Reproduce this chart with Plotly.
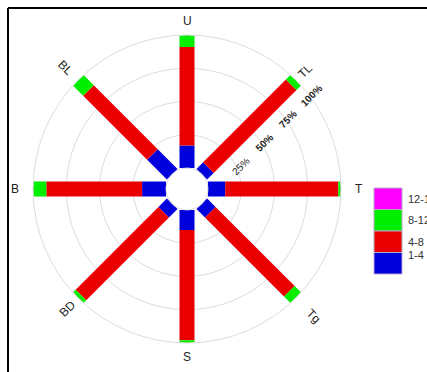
import math
import plotly.graph_objects as go

# Wind directions (clockwise from top) and their compass angles
directions = ["U", "TL", "T", "Tg", "S", "BD", "B", "BL"]
angles = [0, 45, 90, 135, 180, 225, 270, 315]

# Speed classes and their share (%) per direction
classes = ["1-4", "4-8", "8-12", "12-16"]
share_1_4 = [17, 7, 13, 9, 15, 9, 18, 21]
share_4_8 = [74, 88, 85, 84, 83, 88, 72, 68]
share_8_12 = [9, 5, 2, 7, 2, 3, 10, 11]
share_12_16 = [0, 0, 0, 0, 0, 0, 0, 0]
class_colors = ["#0000dc", "#ea0000", "#00ee00", "#ff00ff"]

radial_ticks = [25, 50, 75, 100]
radial_text = ["25%", "<b>50%</b>", "<b>75%</b>", "<b>100%</b>"]

W, H = 427, 372
# polar area in pixels
cx, cy, R = 187, 189, 154

fig = go.Figure()

series = [share_1_4, share_4_8, share_8_12, share_12_16]
base = [0] * len(directions)
for name, vals, col in zip(classes, series, class_colors):
    rr, tt = [], []
    for i, v in enumerate(vals):
        rr += [base[i], base[i] + v, None]
        tt += [angles[i], angles[i], None]
        base[i] += v
    fig.add_trace(go.Scatterpolar(
        r=rr, theta=tt, mode="lines", name=name,
        line=dict(color=col, width=15), connectgaps=False,
        showlegend=False, hoverinfo="skip"))

fig.update_layout(
    width=W, height=H,
    margin=dict(l=0, r=0, t=0, b=0),
    paper_bgcolor="white",
    font=dict(family="Liberation Sans, Arial", color="#333"),
    polar=dict(
        domain=dict(x=[(cx - R) / W, (cx + R) / W],
                    y=[(H - cy - R) / H, (H - cy + R) / H]),
        hole=0.136,
        bgcolor="white",
        radialaxis=dict(range=[0, 100], tickvals=radial_ticks, ticktext=radial_text,
                        angle=45, side="clockwise", showline=False,
                        ticks="outside", ticklen=13, tickcolor="rgba(0,0,0,0)",
                        gridcolor="#dddddd", gridwidth=1,
                        tickfont=dict(size=10, color="#222")),
        angularaxis=dict(rotation=90, direction="clockwise", showgrid=False,
                         showticklabels=False, ticks="", showline=True,
                         linecolor="#dddddd", linewidth=1),
    ),
)

# direction labels placed just outside the outer ring, aligned radially
label_dist = [177, 185, 178, 197, 177, 189, 178, 190]
for d, a, lr in zip(directions, angles, label_dist):
    rad = math.radians(a)
    px = cx + lr * math.sin(rad)
    py = cy - lr * math.cos(rad)
    if a % 90 == 0:
        ta = 0
    elif a in (45, 225):
        ta = -45
    else:
        ta = 45
    fig.add_annotation(x=px / W, y=(H - py) / H, xref="paper", yref="paper",
                       text=d, showarrow=False, textangle=ta,
                       font=dict(size=12, color="#222"))

# legend: stacked colour boxes, highest class on top
box_top, box_h, box_x0, box_x1 = 188, 21.5, 374, 402
for k, (name, col) in enumerate(zip(classes[::-1], class_colors[::-1])):
    y0 = box_top + k * box_h
    fig.add_shape(type="rect", xref="paper", yref="paper",
                  x0=box_x0 / W, x1=box_x1 / W,
                  y0=(H - y0) / H, y1=(H - y0 - box_h) / H,
                  fillcolor=col, line=dict(color="#b8a8c8", width=1))
    fig.add_annotation(x=406 / W, y=(H - y0 - box_h / 2) / H, xref="paper", yref="paper",
                       text=name, showarrow=False, xanchor="left",
                       font=dict(size=11, color="#333"))

# outer frame (top and left edges)
fig.add_shape(type="line", xref="paper", yref="paper",
              x0=8 / W, x1=1.05, y0=(H - 8) / H, y1=(H - 8) / H,
              line=dict(color="black", width=2))
fig.add_shape(type="line", xref="paper", yref="paper",
              x0=8 / W, x1=8 / W, y0=(H - 8) / H, y1=-0.05,
              line=dict(color="black", width=2))

fig.write_html("out.html")
